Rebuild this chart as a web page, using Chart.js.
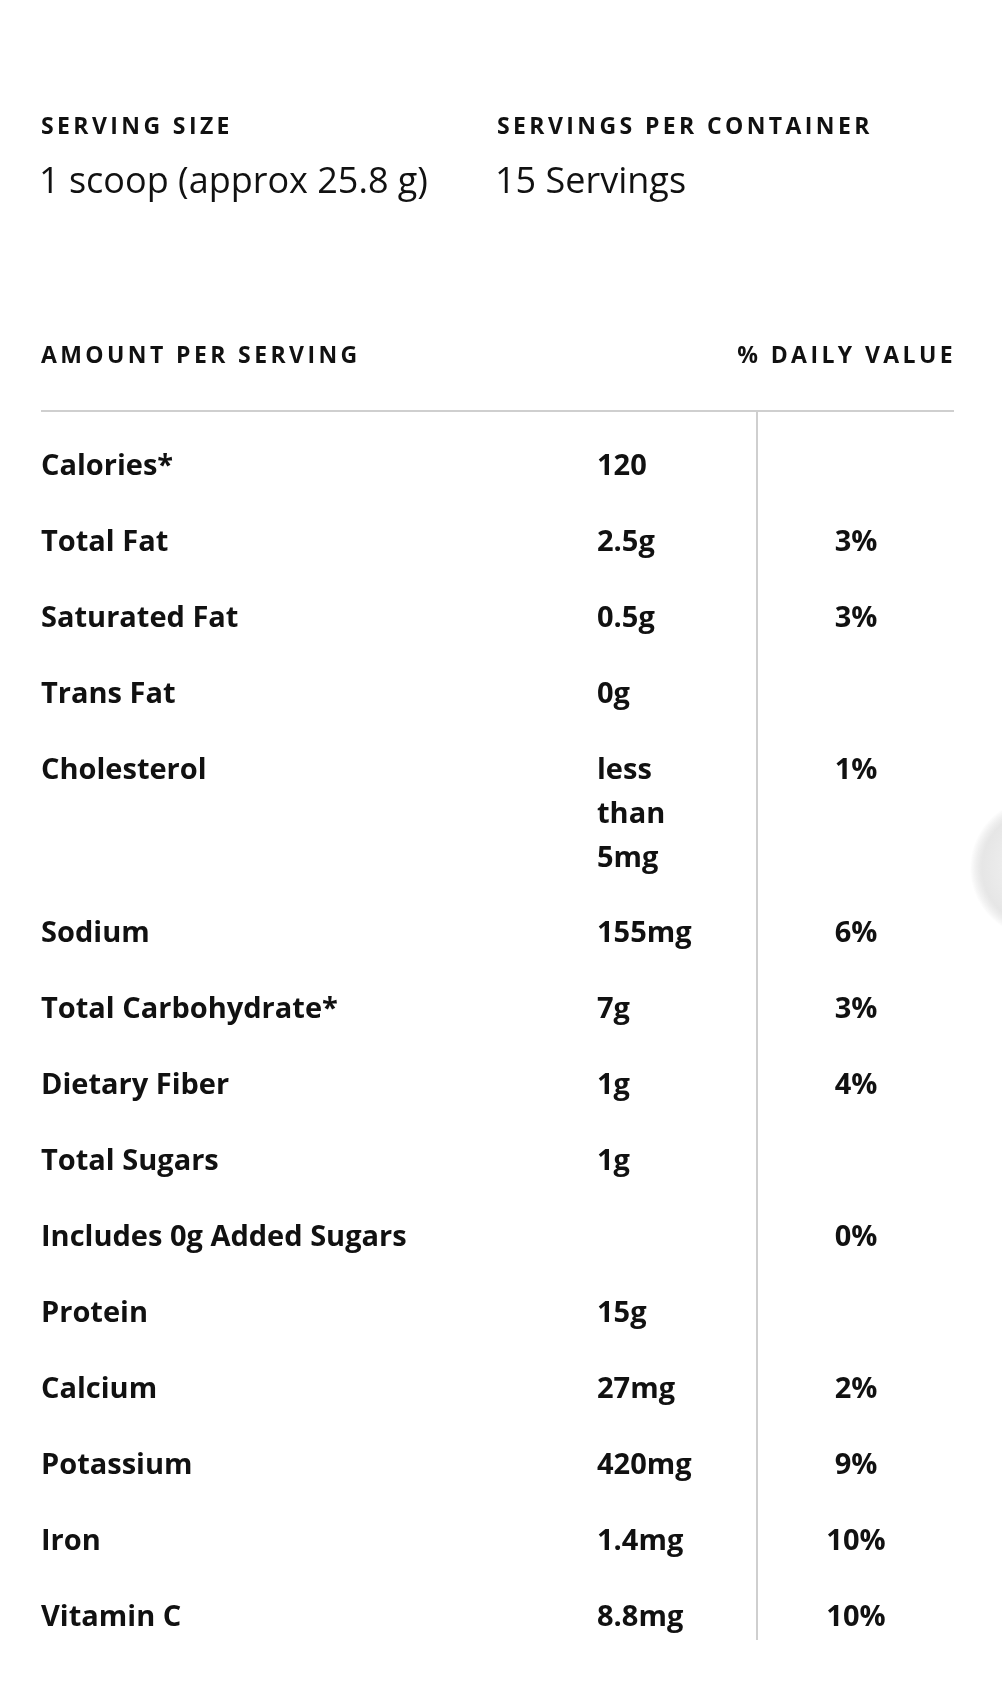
<!DOCTYPE html>
<html>
<head>
<meta charset="utf-8">
<script src="https://cdn.jsdelivr.net/npm/chart.js@4"></script>
<style>
  html, body { margin: 0; padding: 0; background: #fff; }
  canvas { display: block; }
</style>
</head>
<body>
<canvas id="factsChart" width="1002" height="1682"></canvas>
<script>
// Nutrition facts data
const nutrients = ["Calories*", "Total Fat", "Saturated Fat", "Trans Fat", "Cholesterol", "Sodium",
    "Total Carbohydrate*", "Dietary Fiber", "Total Sugars", "Includes 0g Added Sugars", "Protein",
    "Calcium", "Potassium", "Iron", "Vitamin C"];
const amounts = ["120", "2.5g", "0.5g", "0g", "less\nthan\n5mg", "155mg", "7g", "1g", "1g", "",
    "15g", "27mg", "420mg", "1.4mg", "8.8mg"];
const dailyValues = ["", "3%", "3%", "", "1%", "6%", "3%", "4%", "", "0%", "", "2%", "9%", "10%", "10%"];
const servingSize = "1 scoop (approx 25.8 g)";
const servingsPerContainer = "15 Servings";

// row positions in "row units" (wrapped amounts take extra space)
let rowY = [];
let acc = 0;
amounts.forEach(a => {
    rowY.push(acc);
    acc += 1 + (a.split("\n").length - 1) * 0.57;
});

const ROW_H = 76, FIRST_ROW = 467;
const FONT = "'Open Sans'";
const textPlugin = {
    id: "factsText",
    afterDraw(chart) {
        const ctx = chart.ctx, x = chart.scales.x, y = chart.scales.y;
        const px = v => x.getPixelForValue(v), py = v => y.getPixelForValue(v);
        ctx.save();
        ctx.fillStyle = "#111";
        ctx.textBaseline = "middle";

        // headers
        ctx.font = "bold 23px " + FONT;
        ctx.letterSpacing = "3.4px";
        ctx.fillText("SERVING SIZE", px(41), py(127));
        ctx.fillText("SERVINGS PER CONTAINER", px(497), py(127));
        ctx.fillText("AMOUNT PER SERVING", px(41), py(356));
        ctx.textAlign = "right";
        ctx.fillText("% DAILY VALUE", px(956), py(356));
        ctx.letterSpacing = "0px";
        ctx.textAlign = "left";
        ctx.font = "36px " + FONT;
        ctx.fillText(servingSize, px(39), py(183));
        ctx.fillText(servingsPerContainer, px(495), py(183));

        // rules
        ctx.strokeStyle = "#cfcfcf";
        ctx.lineWidth = 2;
        ctx.beginPath();
        ctx.moveTo(px(41), py(411)); ctx.lineTo(px(954), py(411));
        ctx.moveTo(px(757), py(411)); ctx.lineTo(px(757), py(1640));
        ctx.stroke();

        // rows
        ctx.font = "bold 29px " + FONT;
        nutrients.forEach((n, i) => {
            const yy = py(FIRST_ROW + rowY[i] * ROW_H);
            ctx.textAlign = "left";
            ctx.fillText(n, px(41), yy);
            amounts[i].split("\n").forEach((line, k) => ctx.fillText(line, px(597), yy + k * 44));
            ctx.textAlign = "center";
            ctx.fillText(dailyValues[i], px(856), yy);
        });

        // floating button at right edge
        const g = ctx.createRadialGradient(px(1040), py(868), 10, px(1040), py(868), 70);
        g.addColorStop(0, "#f4f4f4");
        g.addColorStop(0.8, "#e6e6e6");
        g.addColorStop(1, "rgba(220,220,220,0)");
        ctx.fillStyle = g;
        ctx.beginPath();
        ctx.arc(px(1040), py(868), 70, 0, Math.PI * 2);
        ctx.fill();
        ctx.restore();
    }
};

new Chart(document.getElementById("factsChart"), {
    type: "scatter",
    data: {
        datasets: [{
            data: nutrients.map((n, i) => ({ x: 41, y: FIRST_ROW + rowY[i] * ROW_H })),
            pointRadius: 0
        }]
    },
    options: {
        responsive: false,
        animation: false,
        devicePixelRatio: 1,
        layout: { padding: 0 },
        plugins: { legend: { display: false }, tooltip: { enabled: false } },
        scales: {
            x: { type: "linear", min: 0, max: 1002, display: false },
            y: { type: "linear", min: 0, max: 1682, reverse: true, display: false }
        }
    },
    plugins: [textPlugin]
});
</script>
</body>
</html>
